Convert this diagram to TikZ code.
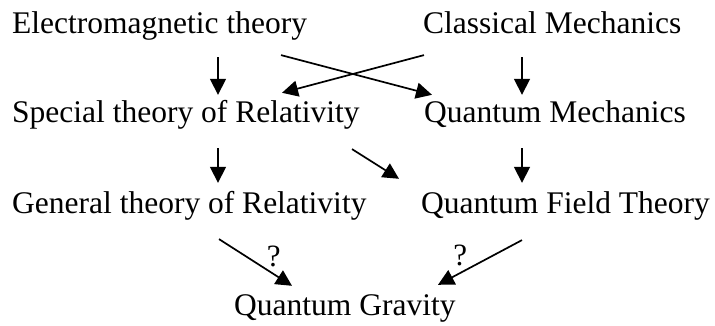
\documentclass[tikz,border=0pt]{standalone}
\usepackage{fontspec}
\setmainfont{Liberation Serif}
\usetikzlibrary{arrows.meta}

\tikzset{
  topic/.style={anchor=base west, inner sep=0pt, font=\fontsize{31.5}{37}\selectfont,
                text height=22pt, text depth=6.9pt},
  qmark/.style={inner sep=1pt, font=\fontsize{31}{37}\selectfont},
  arr/.style={line width=1.7pt, -{Triangle[length=16pt,width=16pt]}},
}

\begin{document}
\begin{tikzpicture}[x=1pt, y=-1pt]
  \useasboundingbox (0,0) rectangle (715,325);

  % theories
  \node[topic] (em)  at (12,33)   {Electromagnetic theory};
  \node[topic] (cm)  at (423,33)  {Classical Mechanics};
  \node[topic] (sr)  at (12,122)  {Special theory of Relativity};
  \node[topic] (qm)  at (424,122) {Quantum Mechanics};
  \node[topic] (gr)  at (12,213)  {General theory of Relativity};
  \node[topic] (qft) at (421,213) {Quantum Field Theory};
  \node[topic] (qg)  at (234,315) {Quantum Gravity};

  % first row to second row
  \draw[arr] ([xshift=206pt,yshift=-17pt]em.south west) -- ([xshift=206pt,yshift=5pt]sr.north west);
  \draw[arr] ([xshift=269pt,yshift=-15pt]em.south west) -- ([xshift=8pt,yshift=5pt]qm.north west);
  \draw[arr] ([xshift=1pt,yshift=-15pt]cm.south west) -- ([xshift=270pt,yshift=7pt]sr.north west);
  \draw[arr] ([xshift=99pt,yshift=-17pt]cm.south west) -- ([xshift=98pt,yshift=5pt]qm.north west);

  % second row to third row
  \draw[arr] ([xshift=206pt,yshift=-19pt]sr.south west) -- ([xshift=206pt,yshift=8pt]gr.north west);
  \draw[arr] ([xshift=340pt,yshift=-20pt]sr.south west) -- ([xshift=-22pt,yshift=12pt]qft.north west);
  \draw[arr] ([xshift=98pt,yshift=-19pt]qm.south west) -- ([xshift=101pt,yshift=8pt]qft.north west);

  % open questions
  \draw[arr] ([xshift=207pt,yshift=-19pt]gr.south west) -- ([xshift=58pt,yshift=7pt]qg.north west)
    node[qmark, pos=0.63, anchor=south west] (q1) {?};
  \draw[arr] ([xshift=101pt,yshift=-20pt]qft.south west) -- ([xshift=204pt,yshift=8pt]qg.north west)
    node[qmark, pos=0.63, anchor=south east] (q2) {?};
\end{tikzpicture}
\end{document}
